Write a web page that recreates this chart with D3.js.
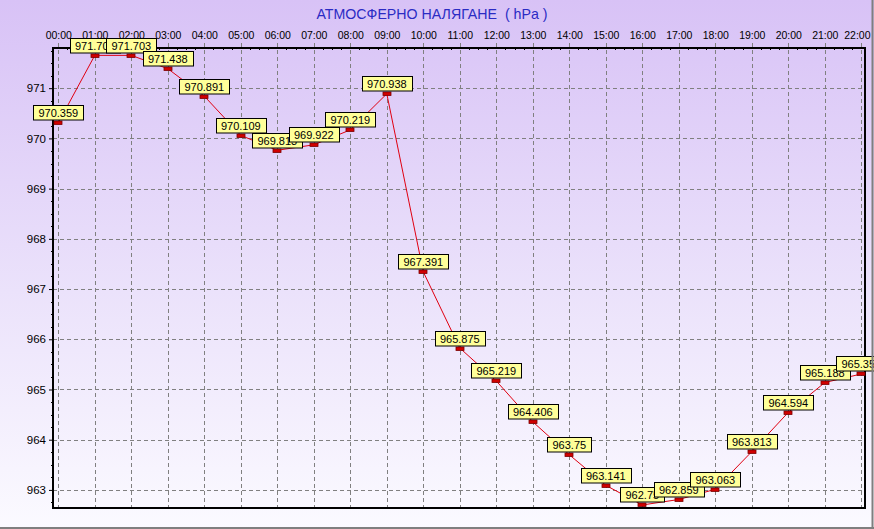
<!DOCTYPE html>
<html>
<head>
<meta charset="utf-8">
<script src="https://cdn.jsdelivr.net/npm/d3@7"></script>
<style>
  html, body { margin: 0; padding: 0; background: #fff; }
  svg { display: block; }
  text { font-family: "Liberation Sans", Arial, sans-serif; }
</style>
</head>
<body>
<svg id="chart" width="874" height="529"></svg>
<script>
const title = "АТМОСФЕРНО НАЛЯГАНЕ  ( hPa )";
const hours = ["00:00","01:00","02:00","03:00","04:00","05:00","06:00","07:00","08:00","09:00","10:00","11:00","12:00","13:00","14:00","15:00","16:00","17:00","18:00","19:00","20:00","21:00","22:00"];
const pressure = [970.359,971.703,971.703,971.438,970.891,970.109,969.813,969.922,970.219,970.938,967.391,965.875,965.219,964.406,963.75,963.141,962.75,962.859,963.063,963.813,964.594,965.188,965.359];
const yTicks = [963,964,965,966,967,968,969,970,971];

const W = 874, H = 529;
const pL = 53, pR = 865, pT = 48, pB = 508;

const svg = d3.select("#chart");
const defs = svg.append("defs");
const grad = defs.append("linearGradient").attr("id","bg").attr("x1",0).attr("y1",0).attr("x2",0).attr("y2",1);
grad.append("stop").attr("offset","0%").attr("stop-color","#d8c2f6");
grad.append("stop").attr("offset","55%").attr("stop-color","#ebe2fb");
grad.append("stop").attr("offset","100%").attr("stop-color","#fbfaff");
svg.append("rect").attr("width",W).attr("height",H).attr("fill","url(#bg)");

const x = d3.scalePoint().domain(hours).range([58.3, 861.3]);
const y = d3.scaleLinear().domain([962.64, 971.8]).range([pB, pT]);

// title
svg.append("text").attr("x", 432).attr("y", 19).attr("text-anchor","middle")
  .attr("font-size", 14.2).attr("fill", "#2b2bc4").style("white-space","pre").text(title);

// gridlines
const grid = svg.append("g").attr("stroke","#808080").attr("stroke-width",1).attr("stroke-dasharray","4,3");
grid.selectAll("line.v").data(hours).join("line").attr("class","v")
  .attr("x1", d => Math.round(x(d)) + 0.5).attr("x2", d => Math.round(x(d)) + 0.5)
  .attr("y1", 43).attr("y2", pB);
grid.selectAll("line.h").data(yTicks).join("line").attr("class","h")
  .attr("y1", d => Math.round(y(d)) + 0.5).attr("y2", d => Math.round(y(d)) + 0.5)
  .attr("x1", pL).attr("x2", pR);

// axes (labels)
const xAxis = d3.axisTop(x).tickSize(0).tickPadding(0);
const gx = svg.append("g").attr("transform", `translate(0,${pT - 9.5})`).call(xAxis);
gx.select(".domain").remove();
gx.selectAll("text").attr("font-size", 10.5).attr("fill","#000").attr("font-family","Liberation Sans, Arial, sans-serif");
// keep the last hour label inside the picture, as the reference does
gx.selectAll(".tick").filter(d => d === hours[hours.length - 1]).select("text")
  .attr("text-anchor","end").attr("x", 8.7);

const yAxis = d3.axisLeft(y).tickValues(yTicks).tickFormat(d3.format("d")).tickSize(4).tickPadding(3);
const gy = svg.append("g").attr("transform", `translate(${pL},0)`).call(yAxis);
gy.select(".domain").remove();
gy.selectAll("line").attr("stroke","#000");
gy.selectAll("text").attr("font-size", 11.5).attr("fill","#000").attr("font-family","Liberation Sans, Arial, sans-serif");

// minor ticks
const minorY = d3.range(962.75, 971.8, 0.25).filter(v => Math.abs(v - Math.round(v)) > 0.01);
svg.append("g").selectAll("line").data(minorY).join("line")
  .attr("x1", pL - 2).attr("x2", pL)
  .attr("y1", d => Math.round(y(d)) + 0.5).attr("y2", d => Math.round(y(d)) + 0.5)
  .attr("stroke","#000");
const minorX = [];
for (let i = 0; i < hours.length - 1; i++) for (let k = 1; k < 4; k++) minorX.push(x(hours[i]) + k * x.step() / 4);
svg.append("g").selectAll("line").data(minorX).join("line")
  .attr("x1", d => Math.round(d) + 0.5).attr("x2", d => Math.round(d) + 0.5)
  .attr("y1", pT).attr("y2", pT + 2).attr("stroke","#000");

// frame
svg.append("rect").attr("x", pL).attr("y", pT).attr("width", pR - pL).attr("height", pB - pT)
  .attr("fill","none").attr("stroke","#000").attr("stroke-width",2);

// data line
const pts = hours.map((h, i) => ({h, v: pressure[i]}));
const line = d3.line().x(d => x(d.h)).y(d => y(d.v) + 2.5);
svg.append("path").datum(pts).attr("d", line).attr("fill","none").attr("stroke","#e00010").attr("stroke-width",1);

// markers and labels
const fmt = v => String(+v.toFixed(3));
const g = svg.append("g");
pts.forEach(d => {
  const px = x(d.h), py = y(d.v);
  g.append("rect").attr("x", Math.round(px) - 4).attr("y", Math.round(py) + 1)
    .attr("width", 8).attr("height", 3.5).attr("fill","#d00000").attr("stroke","#7a0000").attr("stroke-width",0.8);
  const lg = g.append("g");
  const t = lg.append("text").attr("x", px).attr("y", py - 3).attr("text-anchor","middle")
    .attr("font-size", 11).attr("fill","#000").text(fmt(d.v));
  const w = t.node().getComputedTextLength() + 10;
  lg.insert("rect","text").attr("x", Math.round(px - w / 2) + 0.5).attr("y", Math.round(py) - 14.5)
    .attr("width", Math.round(w)).attr("height", 14.5).attr("fill","#ffff99").attr("stroke","#000").attr("stroke-width",1);
});

// outer border
svg.append("line").attr("x1", 872.5).attr("x2", 872.5).attr("y1", 0).attr("y2", H).attr("stroke","#7f7f7f").attr("stroke-width",2);
svg.append("line").attr("x1", 0).attr("x2", W).attr("y1", 528).attr("y2", 528).attr("stroke","#7f7f7f").attr("stroke-width",2);
</script>
</body>
</html>
